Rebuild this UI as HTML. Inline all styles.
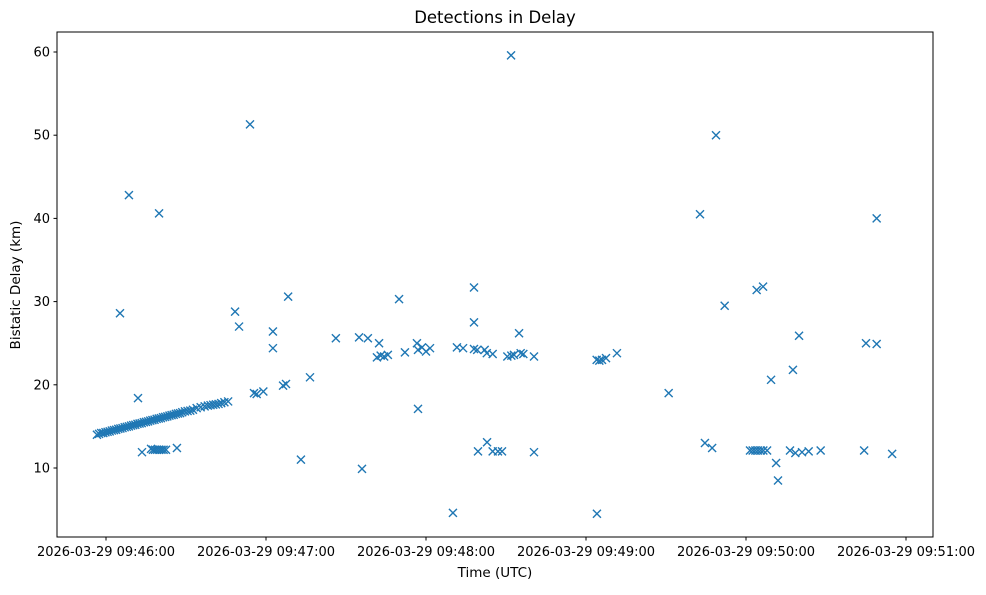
<!DOCTYPE html>
<html><head><meta charset="utf-8"><style>
body{margin:0;background:#fff;}
svg text{font-family:"DejaVu Sans","Liberation Sans",sans-serif;fill:#000;}
</style></head><body>
<svg id="chart" width="986" height="590" xmlns="http://www.w3.org/2000/svg">
<rect width="986" height="590" fill="#fff"/>
<text x="495" y="23" font-size="16.5" text-anchor="middle">Detections in Delay</text>
<g id="marks"></g>
<g id="axes"></g>
<rect x="57" y="32" width="876" height="505" fill="none" stroke="#000" stroke-width="1"/>
<text x="495" y="577" font-size="13.5" text-anchor="middle">Time (UTC)</text>
<text transform="translate(20,285) rotate(-90)" font-size="13.5" text-anchor="middle">Bistatic Delay (km)</text>
</svg>
<script>
// seconds after 2026-03-29 09:46:00 UTC
const timesSec = [-3.4,-2.6,-1.8,-1,-0.2,0.6,1.4,2.2,3,3.8,4.6,5.4,6.2,7,7.8,8.6,9.4,10.2,11,11.8,12.6,13.4,14.2,15,15.8,16.6,17.4,18.2,19,19.8,20.6,21.4,22.2,23,23.8,24.6,25.4,26.2,27,27.8,28.6,29.6,30.6,31.6,32.6,34,35.5,37,38.2,39.2,40.2,41.2,42.2,43.2,44.4,45.8,
5.25,12,13.5,16.9,17.6,18.4,19.2,20,20.8,21.6,22.5,26.6,48.4,49.9,62.6,62.6,68.3,76.5,73.1,55.5,56.5,59,66.4,67.5,8.6,19.9,54,
86.2,94.9,98.2,102.4,101.6,103,104.3,105.7,112.1,109.9,116.6,117,118.5,120,121.5,117,131.6,133.9,138,138,138,139.2,142,142.8,145,150.5,152,153,155.5,154.9,156.5,160.5,184,185,186,187.5,191.6,139.5,142.9,145,147,148.5,160.5,96,130.1,151.9,184.1,
232,244,246.4,259.9,257.6,249.4,285,289,224.6,227.3,241.5,242.5,243.5,244.5,245.5,246.5,247.9,251.3,252,256.5,258.5,261,263.5,268,284.3,294.8,211,222.75,228.75,289];
const delaysKm = [14.0,14.1,14.2,14.2,14.3,14.35,14.4,14.5,14.55,14.6,14.7,14.75,14.8,14.9,14.95,15.0,15.1,15.15,15.2,15.3,15.35,15.4,15.5,15.55,15.6,15.7,15.75,15.8,15.9,15.95,16.0,16.1,16.15,16.2,16.3,16.35,16.4,16.5,16.55,16.6,16.7,16.8,16.85,16.9,17.0,17.2,17.3,17.4,17.5,17.55,17.6,17.65,17.7,17.8,17.9,18.0,
28.6,18.4,11.9,12.3,12.2,12.2,12.2,12.2,12.2,12.2,12.2,12.4,28.8,27.0,26.4,24.4,30.6,20.9,11.0,19.0,18.9,19.2,19.9,20.1,42.8,40.6,51.3,
25.6,25.7,25.6,25.0,23.3,23.5,23.4,23.6,23.9,30.3,25.0,24.2,24.5,24.0,24.4,17.1,24.5,24.4,31.7,27.5,24.3,24.2,24.2,23.8,23.7,23.4,23.5,23.6,23.8,26.2,23.7,23.4,23.0,22.9,23.0,23.2,23.8,12.0,13.1,12.0,12.0,12.0,11.9,9.9,4.6,59.6,4.5,
29.5,31.4,31.8,25.9,21.8,20.6,25.0,24.9,13.0,12.4,12.1,12.1,12.1,12.1,12.1,12.1,12.1,10.6,8.5,12.1,11.8,11.9,12.0,12.1,12.1,11.7,19.0,40.5,50.0,40.0];
const xTickSec = [0,60,120,180,240,300];
const xTickLabels = ["2026-03-29 09:46:00","2026-03-29 09:47:00","2026-03-29 09:48:00","2026-03-29 09:49:00","2026-03-29 09:50:00","2026-03-29 09:51:00"];
const yTicks = [10,20,30,40,50,60];
const yTickLabels = ["10","20","30","40","50","60"];

const NS="http://www.w3.org/2000/svg";
function xS(s){return 106+s*160/60;}
function yS(v){return 551.2-v*8.32;}
const marks=document.getElementById('marks');
for(let i=0;i<timesSec.length;i++){
  const x=xS(timesSec[i]), y=yS(delaysKm[i]), r=4;
  const p=document.createElementNS(NS,'path');
  p.setAttribute('d',`M${x-r},${y-r}L${x+r},${y+r}M${x-r},${y+r}L${x+r},${y-r}`);
  p.setAttribute('stroke','#1f77b4');p.setAttribute('stroke-width','1.4');p.setAttribute('fill','none');
  
  
  marks.appendChild(p);
}
const axes=document.getElementById('axes');
xTickSec.forEach((s,i)=>{
  const x=xS(s);
  const l=document.createElementNS(NS,'line');
  l.setAttribute('x1',x);l.setAttribute('x2',x);l.setAttribute('y1',537);l.setAttribute('y2',540.5);l.setAttribute('stroke','#000');
  
  
  axes.appendChild(l);
  const t=document.createElementNS(NS,'text');
  t.setAttribute('x',x);t.setAttribute('y',556);t.setAttribute('font-size','13');t.setAttribute('text-anchor','middle');
  t.textContent=xTickLabels[i];
  
  
  axes.appendChild(t);
});
yTicks.forEach((v,i)=>{
  const y=yS(v);
  const l=document.createElementNS(NS,'line');
  l.setAttribute('x1',53.5);l.setAttribute('x2',57);l.setAttribute('y1',y);l.setAttribute('y2',y);l.setAttribute('stroke','#000');
  
  
  axes.appendChild(l);
  const t=document.createElementNS(NS,'text');
  t.setAttribute('x',50);t.setAttribute('y',y+4.5);t.setAttribute('font-size','13');t.setAttribute('text-anchor','end');
  t.textContent=yTickLabels[i];
  
  
  axes.appendChild(t);
});
</script>
</body></html>
